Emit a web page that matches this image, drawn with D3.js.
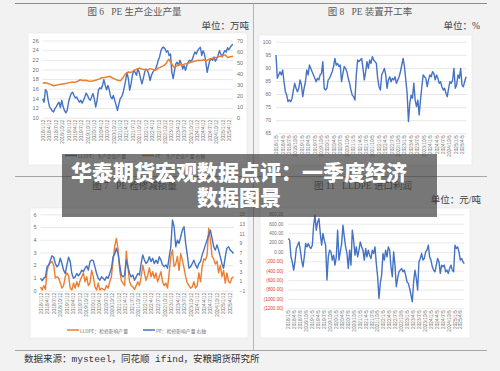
<!DOCTYPE html>
<html><head><meta charset="utf-8">
<script src="https://cdn.jsdelivr.net/npm/d3@7"></script>
<style>html,body{margin:0;padding:0;background:#f2f2f2;}svg{display:block;}text{white-space:pre;}</style>
</head><body>
<svg id="c" width="500" height="371"></svg>
<script>
// ---------- DATA ----------
const bannerLines = ["华泰期货宏观数据点评：一季度经济", "数据图景"];
const sourceText = "数据来源：mysteel，同花顺 ifind，安粮期货研究所";

const titles = ["图 6   PE 生产企业产量", "图 8   PE 装置开工率", "图 7   PE 检修减损量", "图 11   LLDPE 进口利润"];
const units = ["单位：万吨", "单位：%", "单位：元/吨"];
const legend6 = ["LLDPE：生产企业产量", "PE：生产企业产量 右轴"];
const legend7 = ["LLDPE：检修影响产量", "PE：检修影响产量 右轴"];

const datesA = ["2018/1/12","2018/4/12","2018/7/12","2018/10/12","2019/1/12","2019/4/12","2019/7/12","2019/10/12","2020/1/12","2020/4/12","2020/7/12","2020/10/12","2021/1/12","2021/4/12","2021/7/12","2021/10/12","2022/1/12","2022/4/12","2022/7/12","2022/10/12","2023/1/12","2023/4/12","2023/7/12","2023/10/12","2024/1/12","2024/4/12","2024/7/12","2024/10/12","2025/1/12","2025/4/12"];
const datesB = ["2018/1/5","2018/4/5","2018/7/5","2018/10/5","2019/1/5","2019/4/5","2019/7/5","2019/10/5","2020/1/5","2020/4/5","2020/7/5","2020/10/5","2021/1/5","2021/4/5","2021/7/5","2021/10/5","2022/1/5","2022/4/5","2022/7/5","2022/10/5","2023/1/5","2023/4/5","2023/7/5","2023/10/5","2024/1/5","2024/4/5","2024/7/5","2024/10/5","2025/1/5","2025/4/5"];

const ticks6L = [10,12,14,16,18,20,22,24,26];
const ticks6R = [0,10,20,30,40,50,60,70];
const ticks8 = [65,70,75,80,85,90,95,100];
const ticks7L = [0,1,2,3,4,5,6];
const ticks7R = [-1,1,3,5,7,9,11,13,15];
const ticks11 = [-1200,-1000,-800,-600,-400,-200,0,200,400,600,800];

// Fig 6: LLDPE production (left axis)
const lldpeProd = [13.9,13.2,15.8,15.5,13.6,12.3,11.9,11.4,11.2,11.9,12.3,12.8,13.2,12.1,13.6,12.3,11.5,11.0,11.5,13.2,14.3,15.0,15.3,14.6,14.1,14.3,13.7,13.2,13.6,13.0,13.6,14.3,15.1,14.6,13.9,13.6,14.3,15.0,13.9,12.2,13.6,15.7,16.2,16.0,16.7,17.9,16.7,15.8,16.7,15.7,14.3,13.9,14.6,13.6,12.6,11.5,12.8,13.9,14.3,15.0,16.3,17.7,19.4,18.1,15.7,17.0,18.8,19.8,19.4,18.8,20.1,19.4,18.1,17.0,18.1,19.4,20.1,19.8,19.1,17.7,18.8,19.4,19.8,20.1,20.8,21.9,22.6,23.9,24.5,24.6,24.3,23.6,23.9,22.9,23.2,19.4,18.1,19.8,21.2,21.5,20.8,21.9,21.2,20.1,20.8,19.8,20.8,21.5,21.9,21.7,22.0,22.9,23.6,23.2,23.9,24.3,24.6,22.9,23.9,23.2,21.5,19.4,20.8,21.9,22.2,21.9,22.6,21.7,22.2,22.9,23.9,23.2,22.6,23.4,23.9,23.6,24.5,24.1,24.6,25.0,25.2];
// Fig 6: PE production (right axis)
const peProd = [31.4,31.6,31.0,30.2,29.0,29.5,30.0,30.4,30.8,31.2,31.8,32.3,32.0,33.0,34.4,33.8,34.0,33.2,33.0,33.5,34.2,35.0,36.2,36.5,37.0,37.5,36.0,35.0,34.0,33.5,36.5,40.0,41.5,41.0,42.8,44.0,45.0,44.2,43.5,43.0,44.5,43.8,43.0,44.8,45.9,47.0,49.0,53.0,49.5,45.5,47.0,48.5,47.5,48.8,49.2,50.0,50.8,51.5,52.0,51.9,52.5,51.5,53.0,53.8,54.3,54.8,55.5,56.0,57.0,54.5,55.2,55.8];
// Fig 8: PE operating rate
const peRate = [94.9,86.0,87.3,88.5,87.3,89.2,84.7,80.9,79.6,77.1,77.7,77.1,78.4,81.5,84.1,82.2,80.9,82.2,85.4,83.5,79.0,82.2,84.7,89.2,87.3,91.1,89.8,88.5,87.3,86.0,84.7,86.0,85.4,87.3,87.9,92.4,82.2,81.5,82.2,85.4,86.0,87.3,88.5,90.5,93.6,91.1,91.7,90.5,91.1,84.7,87.9,90.5,89.8,88.5,86.0,84.1,81.5,79.6,79.0,77.7,87.3,93.0,92.4,93.0,93.6,89.8,85.4,88.5,92.4,89.8,93.0,91.7,94.3,93.0,92.4,91.7,86.0,82.8,81.5,87.3,88.5,89.8,87.3,82.2,85.4,86.6,84.7,86.0,85.4,86.6,84.1,85.4,86.6,88.5,91.1,93.6,90.5,85.4,80.3,69.5,76.5,79.6,78.4,84.1,77.7,75.2,77.7,72.0,77.7,82.8,87.3,86.6,86.0,82.8,85.4,87.3,86.6,88.5,87.9,85.4,87.3,86.0,84.1,84.7,82.8,81.5,82.2,80.3,79.0,82.2,84.7,84.1,85.4,89.8,82.2,83.5,87.3,86.0,89.8,83.5,82.8,84.7,86.6];
// Fig 7: LLDPE maintenance loss (left axis)
const lldpeLoss = [0.3,0.05,0.4,0.1,1.6,2.0,2.2,2.3,2.0,1.0,1.1,1.0,0.6,0.2,0.4,1.1,1.4,1.2,0.2,0.05,0.6,0.2,0.7,0.3,0.8,1.1,1.4,0.7,1.1,0.4,0.6,1.6,1.1,0.3,0.05,0.6,0.05,0.2,0.1,0.05,0.4,0.2,0.7,1.1,2.4,3.5,4.1,3.3,1.6,0.8,0.6,0.4,3.1,1.9,0.7,0.4,0.3,0.1,0.4,0.7,0.4,1.1,2.0,1.4,0.8,1.2,1.8,1.1,1.5,1.0,1.4,0.7,1.1,1.5,0.7,0.4,0.6,0.2,1.4,2.7,3.2,1.9,2.1,2.7,1.6,2.9,2.4,1.8,1.1,0.6,0.4,0.2,0.3,0.7,0.2,0.4,1.4,0.7,1.9,2.5,2.4,2.8,4.9,4.0,2.7,2.5,2.1,2.3,1.4,2.0,1.1,1.6,0.6,1.4,0.7,0.6,1.0,1.1];
// Fig 7: PE maintenance loss (right axis)
const peLoss = [1.6,1.1,1.6,1.9,4.0,4.4,5.4,6.3,6.0,4.7,4.0,4.4,5.8,4.7,3.3,2.6,4.4,6.0,5.1,2.6,1.6,1.9,2.6,2.1,2.6,3.3,3.0,3.7,4.2,3.3,5.1,5.4,5.3,4.0,2.6,1.6,1.2,1.9,1.6,1.2,1.9,1.6,2.6,3.7,6.1,6.7,7.9,6.8,4.4,2.3,1.9,2.3,5.4,4.0,2.6,1.9,2.3,1.2,1.9,2.6,2.3,4.7,6.5,5.4,4.7,5.1,6.1,5.1,5.8,4.7,5.4,4.7,6.1,5.4,4.4,4.0,4.4,3.7,6.1,8.2,13.8,12.4,8.2,9.6,8.9,10.3,11.7,12.4,8.9,6.5,3.7,4.0,4.7,5.4,4.4,3.7,4.7,5.1,6.5,7.5,8.6,9.6,10.7,11.7,10.0,8.2,7.5,8.6,7.5,6.1,4.7,3.7,6.1,7.9,8.2,7.5,7.2,6.8];
// Fig 11: LLDPE import profit
const importProfit = [284,250,-105,-210,-387,-210,73,143,213,37,-175,-317,-105,178,107,178,107,73,143,567,779,461,637,708,390,143,390,249,143,-599,-105,37,0,-175,-69,-281,-105,461,-175,0,178,567,320,107,-35,-352,37,-281,461,249,-69,107,-105,37,213,107,37,-175,73,-105,37,-69,-140,37,-35,107,-246,-529,-988,-670,-493,-35,-175,37,-105,107,37,-317,-529,0,-281,-741,-564,-423,-387,-352,-423,-387,-493,-635,-670,-776,-917,-1059,-635,-387,-564,-811,-210,-140,-35,-175,-140,0,37,143,-105,-175,-317,-387,-423,-281,-140,-210,-458,-281,-317,-281,-423,-387,-458,-352,-281,-387,-423,143,73,107,0,-175,-140,-210,-246];

// ---------- STYLE ----------
const BLUE = "#4472c4", ORANGE = "#ed7d31";
const CJK = "'Noto Sans CJK SC', sans-serif";
const SERIF = "'Liberation Serif','Noto Sans CJK SC', serif";
const svg = d3.select("#c");

// ---------- helpers ----------
function panel(x, y, w, h) {
  svg.append("rect").attr("x", x).attr("y", y).attr("width", w).attr("height", h)
    .attr("fill", "#fff").attr("stroke", "#e4e4e4").attr("stroke-width", 0.6);
}
function grid(x0, x1, y, ticks) {
  svg.append("g").attr("transform", `translate(${x0},0)`)
    .call(d3.axisLeft(y).tickValues(ticks).tickSize(-(x1 - x0)).tickFormat(""))
    .call(g => { g.select(".domain").remove(); g.selectAll("line").attr("stroke", "#d9d9d9").attr("stroke-width", 0.6); });
}
function yLabels(x, y, ticks, side, fmt, size, colorFn) {
  const ax = (side === "left" ? d3.axisLeft(y) : d3.axisRight(y)).tickValues(ticks).tickSize(0).tickPadding(0).tickFormat(fmt);
  const g = svg.append("g").attr("transform", `translate(${x},0)`).call(ax);
  g.select(".domain").remove();
  g.selectAll("text").attr("font-size", size).attr("font-family", "Arial, 'Liberation Sans', sans-serif")
    .attr("fill", d => colorFn ? colorFn(d) : "#707070");
}
function xLabels(x0, x1, yA, labels) {
  const xp = d3.scalePoint().domain(labels).range([x0, x1]);
  const g = svg.append("g").attr("transform", `translate(0,${yA})`).call(d3.axisBottom(xp).tickSize(0));
  g.select(".domain").remove();
  g.selectAll("text").attr("transform", "rotate(-90)").attr("x", -2).attr("y", 0).attr("dy", "0.35em")
    .attr("text-anchor", "end").attr("font-size", 4.8).attr("font-family", "Arial, 'Liberation Sans', sans-serif").attr("fill", "#707070");
}
function series(data, x0, x1, y, color, w) {
  const xs = d3.scaleLinear().domain([0, data.length - 1]).range([x0, x1]);
  svg.append("path").datum(data).attr("fill", "none").attr("stroke", color).attr("stroke-width", w)
    .attr("stroke-linejoin", "round")
    .attr("d", d3.line().x((d, i) => xs(i)).y(d => y(d)));
}
function text(str, x, y, size, anchor, fill, family, weight) {
  svg.append("text").attr("x", x).attr("y", y).attr("font-size", size).attr("text-anchor", anchor)
    .attr("dominant-baseline", "central").attr("fill", fill).attr("font-family", family || CJK)
    .attr("font-weight", weight || 400).attr("xml:space", "preserve").text(str);
}
function legendItem(x, y, color, label) {
  svg.append("line").attr("x1", x).attr("x2", x + 12).attr("y1", y).attr("y2", y).attr("stroke", color).attr("stroke-width", 1.5);
  text(label, x + 13, y, 4.8, "start", "#707070");
}
function hline(x0, x1, y, c) { svg.append("line").attr("x1", x0).attr("x2", x1).attr("y1", y).attr("y2", y).attr("stroke", c).attr("stroke-width", 1); }

// ---------- page frame ----------
hline(15, 487, 3.5, "#8c8c8c");
hline(15, 487, 176.5, "#a6a6a6");
hline(15, 487, 350.5, "#a6a6a6");
svg.append("line").attr("x1", 253.5).attr("x2", 253.5).attr("y1", 3.5).attr("y2", 350.5).attr("stroke", "#b5b5b5").attr("stroke-width", 1);

// ---------- Figure 6 ----------
text(titles[0], 134.5, 12, 9.5, "middle", "#595959", SERIF);
text(units[0], 249, 26, 9.5, "end", "#404040", SERIF);
panel(28, 33, 219, 132);
{
  const x0 = 42.7, x1 = 233, yT = 40.5, yB = 117.7;
  const yL = d3.scaleLinear().domain([10, 26]).range([yB, yT]);
  const yR = d3.scaleLinear().domain([0, 70]).range([yB, yT]);
  grid(x0, x1, yL, ticks6L);
  yLabels(x0 - 4, yL, ticks6L, "left", d3.format("d"), 5.5);
  yLabels(x1 + 4, yR, ticks6R, "right", d3.format("d"), 5.5);
  xLabels(x0, x1 - 4, yB, datesA);
  series(lldpeProd, x0, x1, yL, BLUE, 1.4);
  series(peProd, x0, x1, yR, ORANGE, 1.5);
  legendItem(65, 155.5, BLUE, legend6[0]);
  legendItem(142, 155.5, ORANGE, legend6[1]);
}

// ---------- Figure 8 ----------
text(titles[1], 370, 12, 9.5, "middle", "#595959", SERIF);
text(units[1], 480, 26, 9.5, "end", "#404040", SERIF);
panel(259, 35, 213, 130);
{
  const x0 = 276, x1 = 466, yT = 41.7, yB = 133.3;
  const y = d3.scaleLinear().domain([65, 100]).range([yB, yT]);
  grid(x0, x1 + 1, y, ticks8);
  yLabels(x0 - 5, y, ticks8, "left", d3.format("d"), 5);
  xLabels(x0, x1 - 4, yB, datesB);
  series(peRate, x0, x1, y, BLUE, 1.4);
}

// ---------- Figure 7 ----------
text(titles[2], 134.5, 185.5, 9.5, "middle", "#595959", SERIF);
panel(30, 208, 218, 130);
{
  const x0 = 40.5, x1 = 233.5, yT = 214.3, yB = 290.7;
  const yL = d3.scaleLinear().domain([0, 6]).range([yB, yT]);
  const yR = d3.scaleLinear().domain([-1, 15]).range([yB, yT]);
  grid(x0, x1, yL, ticks7L);
  yLabels(x0 - 4, yL, ticks7L, "left", d3.format("d"), 5.5);
  yLabels(x1 + 6, yR, ticks7R, "right", d3.format("d"), 5);
  xLabels(x0, x1 - 4, yB, datesA);
  series(lldpeLoss, x0, x1, yL, ORANGE, 1.4);
  series(peLoss, x0, x1, yR, BLUE, 1.4);
  legendItem(67, 330, ORANGE, legend7[0]);
  legendItem(143, 330, BLUE, legend7[1]);
}

// ---------- Figure 11 ----------
text(titles[3], 363, 185.5, 9.5, "middle", "#595959", SERIF);
text(units[2], 481, 200, 9.5, "end", "#404040", SERIF);
panel(260, 208, 210, 130);
{
  const x0 = 288.3, x1 = 464.3, yT = 214.3, yB = 308.3;
  const y = d3.scaleLinear().domain([-1200, 800]).range([yB, yT]);
  grid(x0, x1, y, ticks11);
  const fmt = d => d < 0 ? "(" + d3.format(".2f")(-d) + ")" : d3.format(".2f")(d);
  yLabels(x0 - 5, y, ticks11, "left", fmt, 4.6, d => d < 0 ? "#e03c3c" : "#707070");
  xLabels(x0, x1 - 4, yB, datesB);
  series(importProfit, x0, x1, y, BLUE, 1.4);
}

// ---------- source ----------
text(sourceText, 24, 359, 9.5, "start", "#333333", "'Liberation Mono','Noto Sans CJK SC', monospace");

// ---------- banner ----------
svg.append("rect").attr("x", 62).attr("y", 154).attr("width", 375).attr("height", 63).attr("fill", "rgba(55,55,55,0.66)");
text(bannerLines[0], 239, 171, 21, "middle", "#ffffff", CJK, 900);
text(bannerLines[1], 239, 196, 21, "middle", "#ffffff", CJK, 900);
</script>
</body></html>
